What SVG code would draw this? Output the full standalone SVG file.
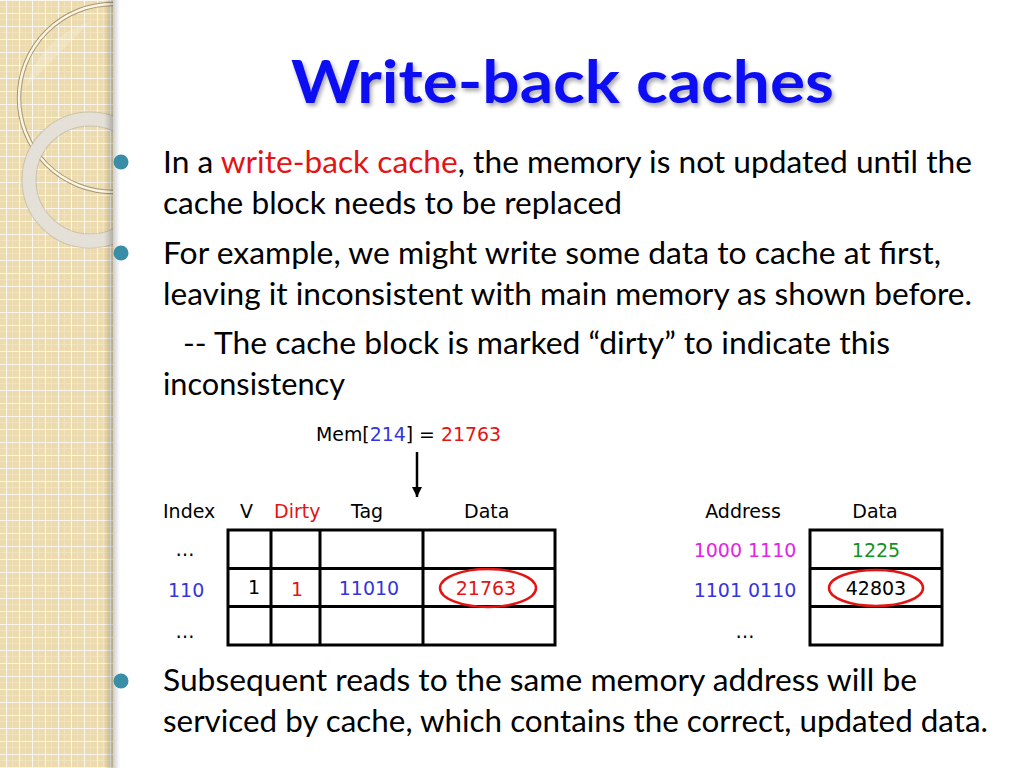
<svg xmlns="http://www.w3.org/2000/svg" width="1024" height="768" viewBox="0 0 1024 768">
  <defs>
    <style>
      .body { font-family: Lato, "Open Sans", "Liberation Sans", sans-serif; font-size: 30px; fill: #000; }
      .tbl { font-family: "DejaVu Sans", Verdana, sans-serif; font-size: 19px; fill: #000; }
      .red { fill: #E41414; }
      .blue { fill: #3535DD; }
      .mag { fill: #E424E4; }
      .grn { fill: #14921E; }
      .cell { fill: none; stroke: #000; stroke-width: 3; }
      .ring { fill: none; stroke: #E41414; stroke-width: 2.5; }
      .bullet { fill: #3A8DA6; }
    </style>
    <pattern id="grid" x="6" y="0" width="13" height="13" patternUnits="userSpaceOnUse">
      <rect width="13" height="13" fill="#EBDBAE"/>
      <path d="M6.5 0V13M0 6.5H13" stroke="#EFE2BC" stroke-width="1"/>
      <path d="M0 0V13M0 0H13" stroke="#FFFFFF" stroke-width="1.6"/>
    </pattern>
    <linearGradient id="edge" x1="0" y1="0" x2="1" y2="0">
      <stop offset="0" stop-color="#000" stop-opacity="0"/>
      <stop offset="0.55" stop-color="#000" stop-opacity="0.22"/>
      <stop offset="0.6" stop-color="#000" stop-opacity="0.18"/>
      <stop offset="1" stop-color="#000" stop-opacity="0"/>
    </linearGradient>
    <clipPath id="strip"><rect x="0" y="0" width="113" height="768"/></clipPath>
    <filter id="tshadow" x="-5%" y="-20%" width="110%" height="150%">
      <feGaussianBlur in="SourceAlpha" stdDeviation="2"/>
      <feOffset dx="2" dy="3" result="b"/>
      <feComponentTransfer><feFuncA type="linear" slope="0.35"/></feComponentTransfer>
      <feMerge><feMergeNode/><feMergeNode in="SourceGraphic"/></feMerge>
    </filter>
    <marker id="arrow" viewBox="0 0 10 10" refX="10" refY="5" markerWidth="4" markerHeight="4" orient="auto">
      <path d="M0 0L10 5L0 10Z" fill="#000"/>
    </marker>
  </defs>

  <rect width="1024" height="768" fill="#FFFFFF"/>

  <!-- decorative left strip -->
  <g id="strip-bg">
    <rect x="0" y="0" width="113" height="768" fill="url(#grid)"/>
    <g clip-path="url(#strip)">
      <path d="M25 88 L90 22 A94 94 0 0 0 25 88 Z" fill="#FFFFFF" opacity="0.2"/>
      <circle cx="113" cy="98" r="94" fill="none" stroke="#A8966F" stroke-width="4.5"/>
      <circle cx="113" cy="98" r="94" fill="none" stroke="#FBF5E4" stroke-width="2.5"/>
      <circle cx="90" cy="180" r="61" fill="none" stroke="#B5B0A4" stroke-width="15" opacity="0.6"/>
      <circle cx="90" cy="180" r="61" fill="none" stroke="#E6E3DB" stroke-width="13" opacity="0.92"/>
    </g>
    <rect x="104" y="0" width="16" height="768" fill="url(#edge)"/>
  </g>

  <!-- title -->
  <g id="title">
    <text x="291" y="103" textLength="543" lengthAdjust="spacingAndGlyphs" filter="url(#tshadow)" style="font-family: Lato, 'Open Sans', 'Liberation Sans', sans-serif; font-weight: 700; font-size: 60px; fill: #0D0DF2;">Write-back caches</text>
  </g>

  <!-- bullets -->
  <g id="bullets">
    <circle class="bullet" cx="121" cy="162" r="7.5"/>
    <circle class="bullet" cx="121" cy="253" r="7.5"/>
    <circle class="bullet" cx="121" cy="681" r="7.5"/>
  </g>

  <g id="text-body">
    <text class="body" x="163" y="173" textLength="809" lengthAdjust="spacingAndGlyphs">In a <tspan class="red">write-back cache</tspan>, the memory is not updated until the</text>
    <text class="body" x="163" y="214" textLength="459" lengthAdjust="spacingAndGlyphs">cache block needs to be replaced</text>
    <text class="body" x="163" y="264" textLength="778" lengthAdjust="spacingAndGlyphs">For example, we might write some data to cache at first,</text>
    <text class="body" x="163" y="305" textLength="809" lengthAdjust="spacingAndGlyphs">leaving it inconsistent with main memory as shown before.</text>
    <text class="body" x="183" y="354" textLength="707" lengthAdjust="spacingAndGlyphs">-- The cache block is marked “dirty” to indicate this</text>
    <text class="body" x="163" y="395" textLength="182" lengthAdjust="spacingAndGlyphs">inconsistency</text>
    <text class="body" x="163" y="691" textLength="754" lengthAdjust="spacingAndGlyphs">Subsequent reads to the same memory address will be</text>
    <text class="body" x="163" y="732" textLength="825" lengthAdjust="spacingAndGlyphs">serviced by cache, which contains the correct, updated data.</text>
  </g>

  <!-- memory write label -->
  <g id="mem-write">
    <text class="tbl" x="316" y="441" textLength="185" lengthAdjust="spacingAndGlyphs">Mem[<tspan class="blue">214</tspan>] = <tspan class="red">21763</tspan></text>
  </g>

  <!-- cache table -->
  <g id="cache-table">
    <text class="tbl" x="163" y="518">Index</text>
    <text class="tbl" x="240" y="518">V</text>
    <text class="tbl red" x="274" y="518">Dirty</text>
    <text class="tbl" x="351" y="518">Tag</text>
    <text class="tbl" x="464" y="518">Data</text>
    <text class="tbl" x="185" y="556" text-anchor="middle">…</text>
    <text class="tbl blue" x="168" y="597">110</text>
    <text class="tbl" x="185" y="638" text-anchor="middle">…</text>
    <rect class="cell" x="228" y="530" width="327" height="115"/>
    <path class="cell" d="M228 568.5H555M228 606.5H555M271 530V645M320 530V645M423 530V645"/>
    <text class="tbl" x="254" y="594" text-anchor="middle">1</text>
    <text class="tbl red" x="297" y="596" text-anchor="middle">1</text>
    <text class="tbl blue" x="369" y="595" text-anchor="middle">11010</text>
    <text class="tbl red" x="486" y="595" text-anchor="middle">21763</text>
    <ellipse class="ring" cx="488" cy="588" rx="48" ry="19"/>
  </g>

  <!-- memory table -->
  <g id="memory-table">
    <text class="tbl" x="743" y="518" text-anchor="middle">Address</text>
    <text class="tbl" x="875" y="518" text-anchor="middle">Data</text>
    <text class="tbl mag" x="745" y="557" text-anchor="middle">1000 1110</text>
    <text class="tbl blue" x="745" y="597" text-anchor="middle">1101 0110</text>
    <text class="tbl" x="745" y="638" text-anchor="middle">…</text>
    <rect class="cell" x="810" y="530" width="132" height="115"/>
    <path class="cell" d="M810 568.5H942M810 606.5H942"/>
    <text class="tbl grn" x="876" y="557" text-anchor="middle">1225</text>
    <text class="tbl" x="876" y="595" text-anchor="middle">42803</text>
    <ellipse class="ring" cx="876" cy="588" rx="47" ry="18"/>
  </g>

  <!-- connectors -->
  <g id="connectors">
    <line x1="417" y1="452" x2="417" y2="497" stroke="#000" stroke-width="2.5" marker-end="url(#arrow)"/>
  </g>
</svg>
